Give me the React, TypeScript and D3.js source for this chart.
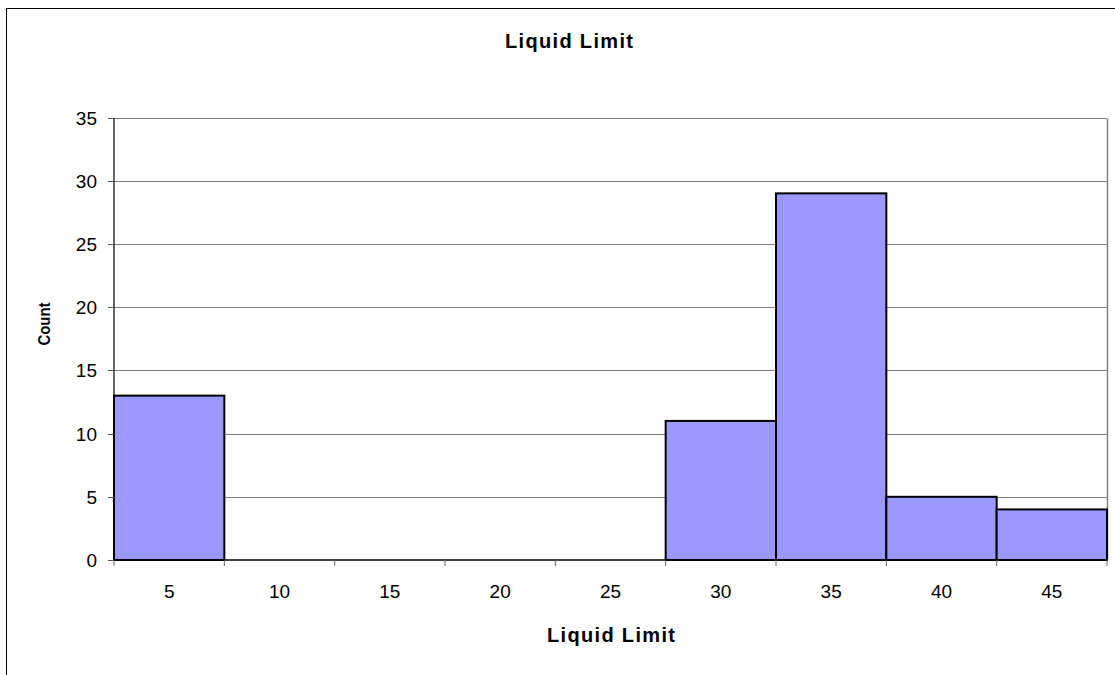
import React, { useEffect, useRef } from "react";
import * as d3 from "d3";

const categories = ["5", "10", "15", "20", "25", "30", "35", "40", "45"];
const counts = [13, 0, 0, 0, 0, 11, 29, 5, 4];
const yTicks = [0, 5, 10, 15, 20, 25, 30, 35];
const chartTitle = "Liquid Limit";
const xTitle = "Liquid Limit";
const yTitle = "Count";

export default function App() {
  const ref = useRef<SVGSVGElement>(null);

  useEffect(() => {
    const svg = d3.select(ref.current);
    svg.selectAll("*").remove();
    const W = 1115, H = 675;
    const left = 114, right = 1107, top = 117.5, bottom = 560;
    const font = "Liberation Sans, Arial, sans-serif";

    // outer frame
    svg.append("rect").attr("x", 6.5).attr("y", 8.5).attr("width", 1300).attr("height", 900)
      .attr("fill", "#fff").attr("stroke", "#000").attr("stroke-width", 1);

    const x = d3.scaleBand<string>().domain(categories).range([left, right]).padding(0);
    const y = d3.scaleLinear().domain([0, 35]).range([bottom, top]);

    // gridlines
    svg.append("g").selectAll("line").data(yTicks.filter(t => t > 0)).join("line")
      .attr("x1", left).attr("x2", right)
      .attr("y1", d => Math.round(y(d)) + 0.5).attr("y2", d => Math.round(y(d)) + 0.5)
      .attr("stroke", "#808080").attr("stroke-width", 1);

    // plot area right border
    svg.append("line").attr("x1", right + 0.5).attr("x2", right + 0.5)
      .attr("y1", Math.round(y(35)) + 0.5).attr("y2", bottom)
      .attr("stroke", "#808080").attr("stroke-width", 1.5);

    // bars
    svg.append("g").selectAll("rect").data(counts.map((c, i) => ({ c, cat: categories[i] })).filter(d => d.c > 0)).join("rect")
      .attr("x", d => x(d.cat)!)
      .attr("width", x.bandwidth())
      .attr("y", d => y(d.c))
      .attr("height", d => bottom - y(d.c))
      .attr("fill", "#9999FF").attr("stroke", "#000").attr("stroke-width", 2);

    // y axis
    svg.append("line").attr("x1", left).attr("x2", left).attr("y1", Math.round(y(35))).attr("y2", bottom)
      .attr("stroke", "#000").attr("stroke-width", 1.2);
    svg.append("g").selectAll("line").data(yTicks).join("line")
      .attr("x1", left - 6).attr("x2", left)
      .attr("y1", d => Math.round(y(d)) + 0.5).attr("y2", d => Math.round(y(d)) + 0.5)
      .attr("stroke", "#555").attr("stroke-width", 1);
    svg.append("g").selectAll("text").data(yTicks).join("text")
      .attr("x", 97).attr("y", d => y(d) + 7)
      .attr("text-anchor", "end").attr("font-family", font).attr("font-size", 19)
      .attr("fill", "#000").text(d => String(d));

    // x axis
    svg.append("line").attr("x1", left).attr("x2", right).attr("y1", bottom).attr("y2", bottom)
      .attr("stroke", "#000").attr("stroke-width", 1.5);
    const bounds = categories.map(c => x(c)!).concat([right]);
    svg.append("g").selectAll("line").data(bounds).join("line")
      .attr("x1", d => d).attr("x2", d => d).attr("y1", bottom).attr("y2", bottom + 6)
      .attr("stroke", "#666").attr("stroke-width", 1);
    svg.append("g").selectAll("text").data(categories).join("text")
      .attr("x", d => x(d)! + x.bandwidth() / 2).attr("y", 598)
      .attr("text-anchor", "middle").attr("font-family", font).attr("font-size", 19)
      .attr("fill", "#000").text(d => d);

    // titles
    svg.append("text").attr("x", 569).attr("y", 48).attr("text-anchor", "middle")
      .attr("font-family", font).attr("font-size", 20).attr("font-weight", "bold")
      .attr("textLength", 128).attr("lengthAdjust", "spacing").text(chartTitle);
    svg.append("text").attr("x", 611).attr("y", 642).attr("text-anchor", "middle")
      .attr("font-family", font).attr("font-size", 20).attr("font-weight", "bold")
      .attr("textLength", 128).attr("lengthAdjust", "spacing").text(xTitle);
    svg.append("text").attr("transform", "translate(50,324) rotate(-90)").attr("text-anchor", "middle")
      .attr("font-family", font).attr("font-size", 17).attr("font-weight", "bold")
      .attr("textLength", 43).attr("lengthAdjust", "spacingAndGlyphs").text(yTitle);

    svg.attr("width", W).attr("height", H);
  }, []);

  return (
    <svg ref={ref} width={1115} height={675}
      style={{ position: "absolute", left: 0, top: 0, background: "#fff" }} />
  );
}
